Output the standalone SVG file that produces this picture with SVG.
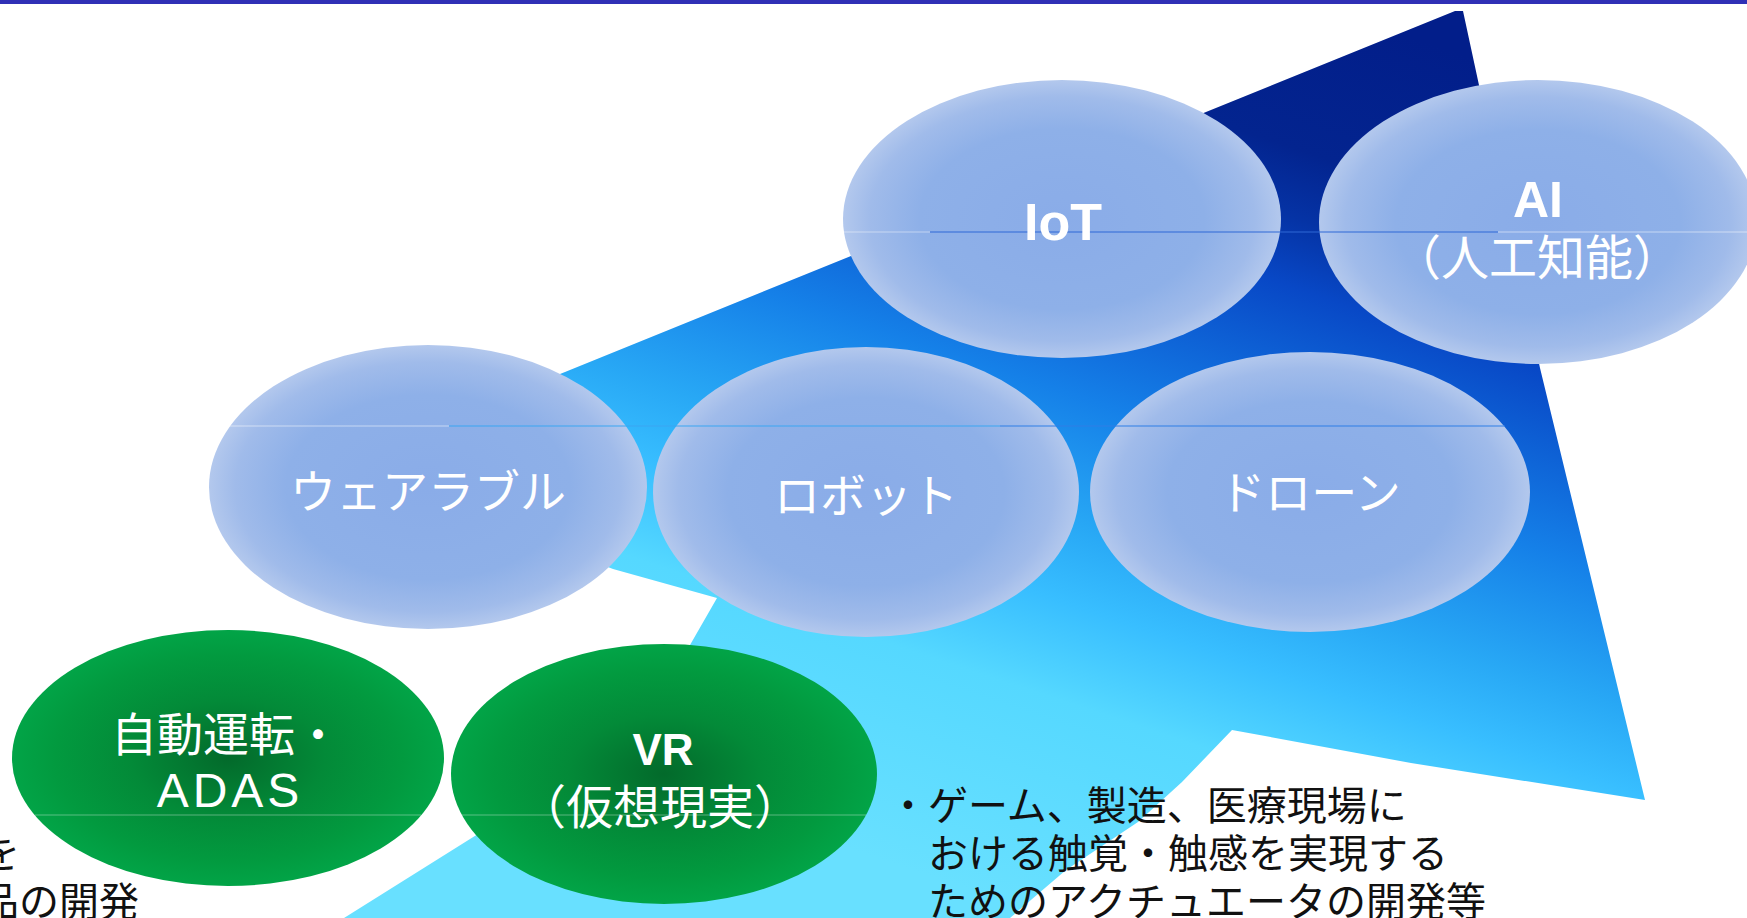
<svg xmlns="http://www.w3.org/2000/svg" width="1747" height="918" viewBox="0 0 1747 918">
  <style>
    .jp { font-family: "Noto Sans CJK JP", "Liberation Sans", sans-serif; }
    .lat { font-family: "Liberation Sans", "Noto Sans CJK JP", sans-serif; }
    .w { fill: #ffffff; }
    .k { fill: #111111; }
    .blue { fill: url(#gBlue); }
    .green { fill: url(#gGreen); }
  </style>
  <defs>
    <linearGradient id="bg" gradientUnits="userSpaceOnUse" x1="1300" y1="0" x2="1000" y2="900">
      <stop offset="0" stop-color="#021E8A"/>
      <stop offset="0.15" stop-color="#03248F"/>
      <stop offset="0.22" stop-color="#0533A5"/>
      <stop offset="0.29" stop-color="#0848C6"/>
      <stop offset="0.47" stop-color="#1580E8"/>
      <stop offset="0.6" stop-color="#28A8F5"/>
      <stop offset="0.68" stop-color="#38BEFF"/>
      <stop offset="0.78" stop-color="#55D8FF"/>
      <stop offset="1" stop-color="#68E0FF"/>
    </linearGradient>
    <radialGradient id="gBlue" cx="0.5" cy="0.5" r="0.5">
      <stop offset="0" stop-color="#8AACE8"/>
      <stop offset="0.65" stop-color="#8EB0E8"/>
      <stop offset="0.88" stop-color="#A0BBEA"/>
      <stop offset="1" stop-color="#B3C8ED"/>
    </radialGradient>
    <radialGradient id="gGreen" cx="0.5" cy="0.5" r="0.5">
      <stop offset="0" stop-color="#036A2B"/>
      <stop offset="0.45" stop-color="#038A38"/>
      <stop offset="0.8" stop-color="#029A3F"/>
      <stop offset="1" stop-color="#02A447"/>
    </radialGradient>
  </defs>

  <rect x="0" y="0" width="1747" height="918" fill="#ffffff"/>
  <rect x="0" y="0" width="1747" height="4" fill="#3030B6"/>

  <g id="arrow-background">
    <polygon fill="url(#bg)" points="344,918 478,834 690,645 717,598 613,569 595,562 545,380 565,372 1455,11 1463,11 1540,368 1645,800 1411,763 1232,730 1182,782 1138,822 1066,870 1010,918"/>
  </g>

  <g id="node-iot">
    <ellipse class="blue" cx="1062" cy="219" rx="219" ry="139"/>
  </g>
  <g id="node-ai">
    <ellipse class="blue" cx="1538" cy="222" rx="219" ry="142"/>
  </g>
  <g id="node-wearable">
    <ellipse class="blue" cx="428" cy="487" rx="219" ry="142"/>
  </g>
  <g id="node-robot">
    <ellipse class="blue" cx="866" cy="492" rx="213" ry="145"/>
  </g>
  <g id="node-drone">
    <ellipse class="blue" cx="1310" cy="492" rx="220" ry="140"/>
  </g>
  <g id="node-adas">
    <ellipse class="green" cx="228" cy="758" rx="216" ry="128"/>
  </g>
  <g id="node-vr">
    <ellipse class="green" cx="664" cy="774" rx="213" ry="130"/>
  </g>

  <g id="seams" stroke-width="1.2">
    <line x1="843" y1="232" x2="930" y2="232" stroke="#ffffff" stroke-opacity="0.45"/>
    <line x1="930" y1="232" x2="1498" y2="232" stroke="#2F68D6"/>
    <line x1="1498" y1="232" x2="1747" y2="232" stroke="#ffffff" stroke-opacity="0.5"/>
    <line x1="228" y1="426" x2="449" y2="426" stroke="#ffffff" stroke-opacity="0.5"/>
    <line x1="449" y1="426" x2="1000" y2="426" stroke="#3AA6F2"/>
    <line x1="1000" y1="426" x2="1505" y2="426" stroke="#2F7FE6"/>
    <line x1="35" y1="815" x2="421" y2="815" stroke="#ffffff" stroke-opacity="0.35"/>
    <line x1="462" y1="815" x2="866" y2="815" stroke="#ffffff" stroke-opacity="0.35"/>
  </g>

  <g id="labels" text-anchor="middle">
    <text class="lat w" x="1063" y="240" font-size="52" font-weight="bold">IoT</text>
    <text class="lat w" x="1538" y="217" font-size="50" font-weight="bold">AI</text>
    <text class="jp w" x="1537" y="275" font-size="48">（人工知能）</text>
    <text class="jp w" x="428" y="508" font-size="46">ウェアラブル</text>
    <text class="jp w" x="866" y="512" font-size="46">ロボット</text>
    <text class="jp w" x="1310" y="509" font-size="46">ドローン</text>
    <text class="jp w" x="226" y="751" font-size="46">自動運転・</text>
    <text class="lat w" x="230" y="807" font-size="48" letter-spacing="4">ADAS</text>
    <text class="lat w" x="663" y="765" font-size="44" font-weight="bold">VR</text>
    <text class="jp w" x="660" y="824" font-size="47">（仮想現実）</text>
  </g>

  <g id="notes" class="jp k" font-size="40">
    <text x="888" y="820">・ゲーム、製造、医療現場に</text>
    <text x="928" y="868">おける触覚・触感を実現する</text>
    <text x="928" y="916">ためのアクチュエータの開発等</text>
    <text x="20" y="868" text-anchor="end">を</text>
    <text x="139" y="916" text-anchor="end">品の開発</text>
  </g>
</svg>
